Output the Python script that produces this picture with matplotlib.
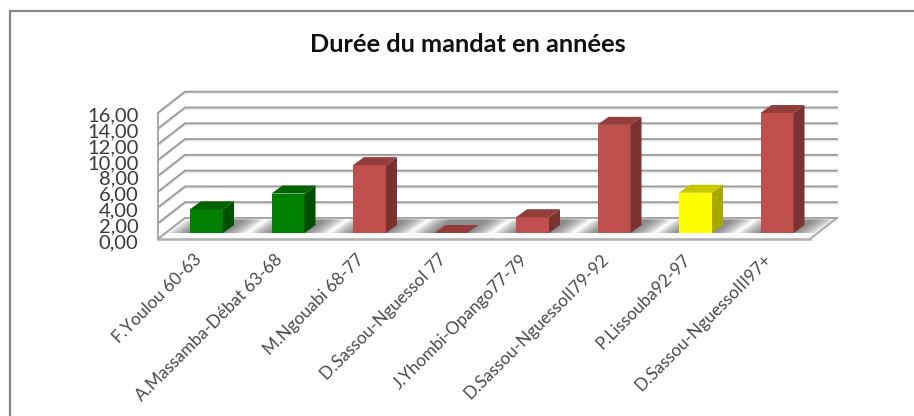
import matplotlib
matplotlib.use("Agg")
import matplotlib.pyplot as plt
from matplotlib.patches import Polygon
from matplotlib.lines import Line2D
from matplotlib.transforms import ScaledTranslation

title = "Durée du mandat en années"
categories = ["F.Youlou 60-63", "A.Massamba-Débat 63-68", "M.Ngouabi 68-77",
              "D.Sassou-NguessoI 77", "J.Yhombi-Opango77-79",
              "D.Sassou-NguessoII79-92", "P.Lissouba92-97", "D.Sassou-NguessoIII97+"]
values = [3.0, 5.0, 8.6, 0.0, 2.0, 13.7, 5.1, 15.2]
groups = ["g", "g", "r", "r", "r", "r", "y", "r"]
yticks = [0, 2, 4, 6, 8, 10, 12, 14, 16]

palette = {"g": ("#008000", "#006300", "#004f00"),
           "r": ("#C0504D", "#933E3C", "#7C3230"),
           "y": ("#FFFF00", "#C9C900", "#A8A800")}

W, H = 914, 416
L, R, B, T = 158, 810, 239, 112.7
fig = plt.figure(figsize=(W / 100, H / 100), dpi=100, facecolor="white")
ax = fig.add_axes([L / W, 1 - B / H, (R - L) / W, (B - T) / H])
ax.set_xlim(0, len(categories))
ax.set_ylim(0, yticks[-1])
ax.patch.set_visible(False)
for s in ax.spines.values():
    s.set_visible(False)

ux = len(categories) / (R - L)   # data units per pixel
uy = yticks[-1] / (B - T)
DX, DY = 27 * ux, 21 * uy        # full floor depth
BX0, BY0 = 7.75 * ux, 6 * uy     # bar front offset
BDX, BDY = 11 * ux, 8 * uy       # bar depth
BW = 33 * ux
n = len(categories)

# walls
shift = ScaledTranslation(0, -1.5 / 100, fig.dpi_scale_trans)
for v in yticks:
    ax.plot([0, DX, n + DX], [v, v + DY, v + DY], color="#e6e6e6", lw=1.2,
            clip_on=False, zorder=1, transform=ax.transData + shift)
    ax.plot([0, DX, n + DX], [v, v + DY, v + DY], color="#999999", lw=1.3,
            clip_on=False, zorder=2, solid_joinstyle="miter")
ax.plot([0, 0], [0, yticks[-1]], color="#a8a8a8", lw=1.4, clip_on=False, zorder=2)

# floor
floor = Polygon([(0, 0), (n, 0), (n + DX, DY), (DX, DY)], closed=True,
                facecolor="#fbfbfb", edgecolor="none", zorder=3, clip_on=False)
ax.add_patch(floor)
for i in range(n):
    x0 = i + 0.5 + BX0 - BW / 2
    for k in range(14):
        g = (14 - k) * 1.6 * ux
        p = Polygon([(x0 - g, BY0), (x0 + BW + g, BY0),
                     (x0 + BW + g + 19 * ux, BY0 + 13.5 * uy), (x0 - g + 19 * ux, BY0 + 13.5 * uy)],
                    closed=True, facecolor="#505050", edgecolor="none",
                    alpha=0.065, zorder=4, clip_on=False)
        ax.add_patch(p)
ax.plot([n, n + DX, DX], [0, DY, DY], color="#a4a4a4", lw=1.3, clip_on=False, zorder=5)
ax.plot([0, n], [0, 0], color="#b0b0b0", lw=1.8, clip_on=False, zorder=5)
ax.plot([0, DX], [0, DY], color="#a4a4a4", lw=1.3, clip_on=False, zorder=5)

# bars
for i, (v, g) in enumerate(zip(values, groups)):
    x0 = i + 0.5 + BX0 - BW / 2
    x1 = x0 + BW
    y0 = BY0
    y1 = BY0 + v
    front, top, side = palette[g]
    if v > 0:
        ax.add_patch(Polygon([(x0, y0), (x1, y0), (x1, y1), (x0, y1)], facecolor=front,
                             edgecolor="none", zorder=7, clip_on=False))
        ax.add_patch(Polygon([(x1, y0), (x1 + BDX, y0 + BDY), (x1 + BDX, y1 + BDY), (x1, y1)],
                             facecolor=side, edgecolor="none", zorder=7, clip_on=False))
    ax.add_patch(Polygon([(x0, y1), (x1, y1), (x1 + BDX, y1 + BDY), (x0 + BDX, y1 + BDY)],
                         facecolor=top, edgecolor="none", zorder=7, clip_on=False))

# ticks
ax.set_yticks(yticks)
ax.set_yticklabels([f"{v:.2f}".replace(".", ",") for v in yticks],
                   family="Lato", fontsize=14.5, color="#3a3a3a")
ax.set_xticks([i + 0.5 for i in range(n)])
ax.set_xticklabels(categories, rotation=45, ha="right", va="center", rotation_mode="anchor",
                   family="Lato", fontsize=12.4, color="#4a4a4a")
ax.tick_params(axis="y", length=0, pad=14)
ax.tick_params(axis="x", length=0, pad=13)
down = ScaledTranslation(0, -2 / 100, fig.dpi_scale_trans)
for lab in ax.get_yticklabels():
    lab.set_transform(lab.get_transform() + down)

# title
fig.text(468 / W, 1 - 52 / H, title, ha="center", va="baseline", family="Lato",
         weight="bold", fontsize=18.3, color="#111111")

# chart frame
fig.add_artist(Line2D([9.5 / W, 9.5 / W, 1], [0, 1 - 10.5 / H, 1 - 10.5 / H],
                      color="#868686", lw=1.6, solid_joinstyle="miter", transform=fig.transFigure))

fig.savefig("out.png", dpi=100)
